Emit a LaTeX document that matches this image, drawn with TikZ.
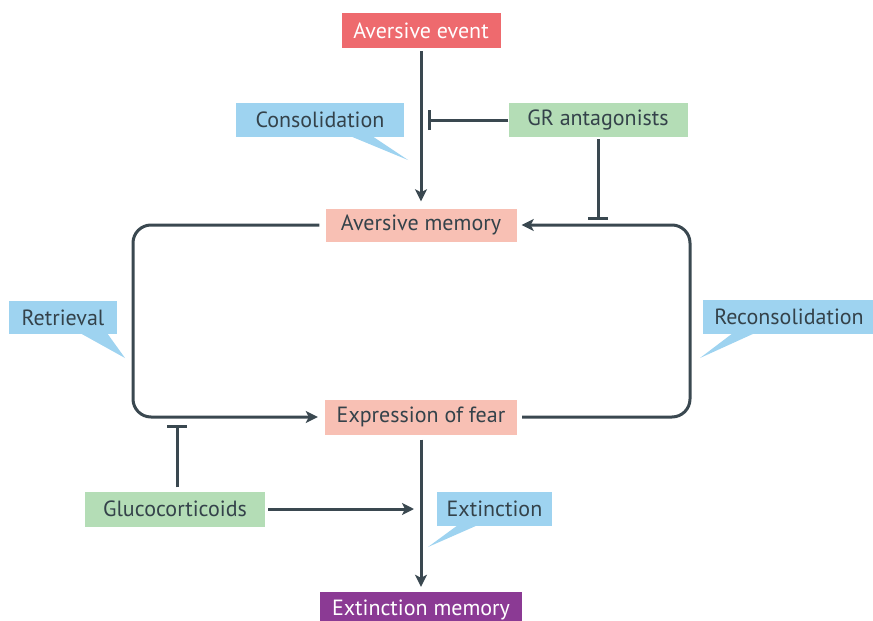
\documentclass[tikz,border=0pt]{standalone}
\usepackage{fontspec}
\setmainfont{PT Sans}
\usetikzlibrary{arrows.meta}
\definecolor{ln}{HTML}{3A4850}
\definecolor{tx}{HTML}{34424A}
\definecolor{redbox}{HTML}{EE6A6E}
\definecolor{pinkbox}{HTML}{F8C0B4}
\definecolor{bluebox}{HTML}{9ED3F0}
\definecolor{greenbox}{HTML}{B4DDB6}
\definecolor{purplebox}{HTML}{8B3A94}
\tikzset{
  box/.style={inner sep=0pt, text=tx, font=\fontsize{22}{26}\selectfont},
  arr/.style={draw=ln, line width=3pt, -{Stealth[length=12pt,width=12pt,inset=3pt]}},
  inh/.style={draw=ln, line width=3pt, -{Bar[width=20pt]}},
  tail/.style={fill=bluebox, draw=none}
}
\begin{document}
\begin{tikzpicture}[x=1pt,y=-1pt]
\useasboundingbox (0,0) rectangle (873,621);
% callout tails
\fill[tail] (350,136) -- (372,136) -- (408,160) -- cycle;
\fill[tail] (80,333) -- (107,333) -- (125,358) -- cycle;
\fill[tail] (733,333) -- (755,333) -- (700,358) -- cycle;
\fill[tail] (458,525) -- (478,525) -- (428,547) -- cycle;
% nodes
\node[box, fill=redbox, text=white, minimum width=159pt, minimum height=35pt] (ev) at (421,30.5) {Aversive event};
\node[box, fill=bluebox, minimum width=168pt, minimum height=34pt] (cons) at (320,120) {Consolidation};
\node[box, fill=greenbox, minimum width=179pt, minimum height=34pt] (gr) at (598,120) {GR antagonists};
\node[box, fill=pinkbox, minimum width=191pt, minimum height=33pt] (am) at (421,225) {Aversive memory};
\node[box, fill=bluebox, minimum width=108pt, minimum height=33pt] (ret) at (63,317.5) {Retrieval};
\node[box, fill=bluebox, minimum width=172pt, minimum height=34pt] (rec) at (789,317) {Reconsolidation};
\node[box, fill=pinkbox, minimum width=192pt, minimum height=35pt] (ef) at (421,417) {Expression of fear};
\node[box, fill=greenbox, minimum width=180pt, minimum height=35pt] (gc) at (175,509) {Glucocorticoids};
\node[box, fill=bluebox, minimum width=115pt, minimum height=34pt] (ext) at (494.5,509) {Extinction};
\node[box, fill=purplebox, text=white, minimum width=202pt, minimum height=36pt] (xm) at (421,610) {Extinction memory};
% helper coordinates
\coordinate (c1) at (428,120);
\coordinate (c2) at (598,220);
\coordinate (c3) at (177,425);
\coordinate (c4) at (414,509);
\coordinate (rb) at (690,417);
\coordinate (rt) at (690,225);
\coordinate (lt) at (133,225);
\coordinate (lb) at (133,417);
% connectors
\draw[arr, shorten <=3pt, shorten >=7pt] (ev.south) -- (am.north);
\draw[inh] (gr.west) -- (c1);
\draw[inh, shorten <=2pt] (gr.south) -- (c2);
\draw[arr, rounded corners=18pt] ([xshift=5pt]ef.east) -- (rb) -- (rt) -- ([xshift=5pt]am.east);
\draw[arr, rounded corners=18pt] ([xshift=-6pt]am.west) -- (lt) -- (lb) -- ([xshift=-7pt]ef.west);
\draw[inh, shorten <=4pt] (gc.north -| c3) -- (c3);
\draw[arr, shorten <=3pt] (gc.east) -- (c4);
\draw[arr, shorten <=5pt, shorten >=5pt] (ef.south) -- (xm.north);
\end{tikzpicture}
\end{document}
